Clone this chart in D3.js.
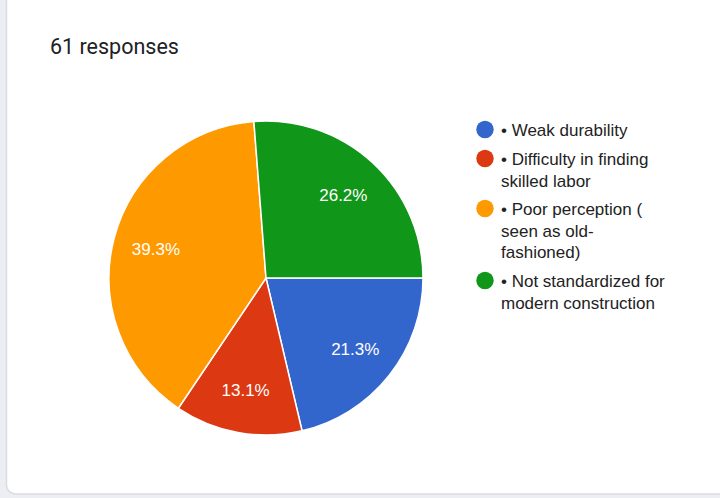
<!DOCTYPE html>
<html>
<head>
<meta charset="utf-8">
<script src="https://cdn.jsdelivr.net/npm/d3@7/dist/d3.min.js"></script>
<style>
  html, body { margin: 0; padding: 0; background: #eceef3; }
  svg { display: block; }
</style>
</head>
<body>
<svg id="chart" width="720" height="498"></svg>
<script>
// Survey answers (61 responses), in drawing order clockwise from 3 o'clock
const categories = [
  "• Weak durability",
  "• Difficulty in finding skilled labor",
  "• Poor perception ( seen as old-fashioned)",
  "• Not standardized for modern construction"
];
const counts = [13, 8, 24, 16];
const percentLabels = ["21.3%", "13.1%", "39.3%", "26.2%"];
const legendLines = [
  ["• Weak durability"],
  ["• Difficulty in finding", "skilled labor"],
  ["• Poor perception (", "seen as old-", "fashioned)"],
  ["• Not standardized for", "modern construction"]
];
const colors = ["#3366cc", "#dc3912", "#ff9900", "#109618"];
const title = "61 responses";

const svg = d3.select("#chart");

// card
svg.append("rect")
  .attr("x", 6.5).attr("y", -20)
  .attr("width", 740).attr("height", 514)
  .attr("rx", 9).attr("ry", 9)
  .attr("fill", "#ffffff")
  .attr("stroke", "#dadce0")
  .attr("stroke-width", 1.5);

svg.append("text")
  .attr("x", 50).attr("y", 54)
  .attr("font-family", "Roboto, Arial, sans-serif")
  .attr("font-size", 21.5)
  .attr("fill", "#202124")
  .text(title);

// pie
const cx = 266, cy = 278, r = 157;
const color = d3.scaleOrdinal().domain(categories).range(colors);
const pie = d3.pie().sort(null).value(d => d.value)
  .startAngle(Math.PI / 2).endAngle(Math.PI / 2 + 2 * Math.PI);
const data = categories.map((c, i) => ({ name: c, value: counts[i], label: percentLabels[i] }));
const arcs = pie(data);
const arc = d3.arc().innerRadius(0).outerRadius(r);
const labelArc = d3.arc().innerRadius(r * 0.725).outerRadius(r * 0.725);

const g = svg.append("g").attr("transform", `translate(${cx},${cy})`);
g.selectAll("path.slice").data(arcs).join("path")
  .attr("class", "slice")
  .attr("d", arc)
  .attr("fill", d => color(d.data.name))
  .attr("stroke", "#ffffff")
  .attr("stroke-width", 1.5);

g.selectAll("text.pct").data(arcs).join("text")
  .attr("class", "pct")
  .attr("transform", d => `translate(${labelArc.centroid(d)})`)
  .attr("text-anchor", "middle")
  .attr("dy", "0.36em")
  .attr("font-family", "Arial, 'Liberation Sans', sans-serif")
  .attr("font-size", 17)
  .attr("fill", "#ffffff")
  .text(d => d.data.label);

// legend
const legendX = 485, textX = 501, lineH = 21.5;
const rowBaseline = [136, 165, 215, 287];
const legend = svg.append("g");
categories.forEach((c, i) => {
  const row = legend.append("g").attr("transform", `translate(0,${rowBaseline[i]})`);
  row.append("circle")
    .attr("cx", legendX).attr("cy", -6.5).attr("r", 8.7)
    .attr("fill", color(c));
  row.append("text")
    .attr("x", textX).attr("y", 0)
    .attr("font-family", "Arial, 'Liberation Sans', sans-serif")
    .attr("font-size", 17)
    .attr("fill", "#222222")
    .selectAll("tspan").data(legendLines[i]).join("tspan")
    .attr("x", textX)
    .attr("dy", (d, j) => j === 0 ? 0 : lineH)
    .text(d => d);
});
</script>
</body>
</html>
